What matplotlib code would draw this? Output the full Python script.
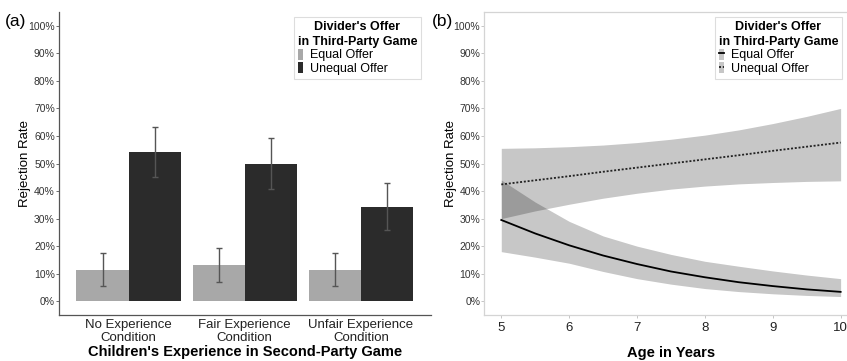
import numpy as np
import matplotlib
matplotlib.use("Agg")
from matplotlib import pyplot as plt
from matplotlib.patches import Patch
from matplotlib.lines import Line2D
from matplotlib.legend_handler import HandlerTuple

plt.rcParams['font.family'] = ['Liberation Sans', 'DejaVu Sans']

# panel (a): rejection rate by condition
conditions = ["No Experience\nCondition", "Fair Experience\nCondition", "Unfair Experience\nCondition"]
equal_rate = [0.115, 0.131, 0.115]
equal_lo = [0.057, 0.070, 0.057]
equal_hi = [0.174, 0.195, 0.174]
unequal_rate = [0.541, 0.500, 0.341]
unequal_lo = [0.452, 0.409, 0.258]
unequal_hi = [0.633, 0.592, 0.429]

# panel (b): fitted rejection rate by age
ages = [5, 5.5, 6, 6.5, 7, 7.5, 8, 8.5, 9, 9.5, 10]
eq_fit = [0.295, 0.246, 0.203, 0.166, 0.135, 0.108, 0.087, 0.069, 0.055, 0.043, 0.034]
eq_upper = [0.44, 0.36, 0.29, 0.237, 0.20, 0.17, 0.145, 0.127, 0.11, 0.095, 0.082]
eq_lower = [0.18, 0.16, 0.138, 0.108, 0.082, 0.062, 0.046, 0.035, 0.027, 0.021, 0.017]
uneq_fit = [0.424, 0.439, 0.454, 0.470, 0.485, 0.500, 0.515, 0.530, 0.546, 0.561, 0.576]
uneq_upper = [0.555, 0.557, 0.561, 0.567, 0.576, 0.588, 0.603, 0.622, 0.645, 0.671, 0.70]
uneq_lower = [0.30, 0.328, 0.352, 0.374, 0.392, 0.407, 0.418, 0.426, 0.431, 0.435, 0.437]

legend_title = "Divider's Offer\nin Third-Party Game"
labels = ["Equal Offer", "Unequal Offer"]
yticks = np.arange(0, 1.01, 0.1)
yticklabels = ["%d%%" % round(v * 100) for v in yticks]

light = "#a8a8a8"
dark = "#2b2b2b"

fig = plt.figure(figsize=(8.47, 3.61), dpi=100)
ax1 = fig.add_axes([59 / 847, 46 / 361, 371.6 / 847, 303 / 361])
ax2 = fig.add_axes([484.3 / 847, 46 / 361, 373.3 / 847, 303 / 361])


def legend_style(leg):
    leg.get_frame().set_edgecolor("#dddddd")
    leg.get_frame().set_linewidth(0.8)
    leg.get_title().set_multialignment("center")
    leg.get_title().set_linespacing(1.3)


leg_kw = dict(borderaxespad=0, fontsize=9, title_fontproperties={"weight": "bold", "size": 9},
              handlelength=0.45, handleheight=1.0, handletextpad=0.5, alignment="left",
              labelspacing=0.05, borderpad=0.3, fancybox=False, framealpha=1)

# ---- (a) bars
x = np.arange(1, 4)
w = 0.45
ax1.bar(x - w / 2, equal_rate, w, color=light, label=labels[0])
ax1.bar(x + w / 2, unequal_rate, w, color=dark, label=labels[1])
err_lo = [np.array(equal_rate) - np.array(equal_lo), np.array(equal_hi) - np.array(equal_rate)]
ax1.errorbar(x - w / 2, equal_rate, yerr=err_lo, fmt="none", ecolor="#555555",
             elinewidth=1, capsize=2.2, capthick=1)
err_hi = [np.array(unequal_rate) - np.array(unequal_lo), np.array(unequal_hi) - np.array(unequal_rate)]
ax1.errorbar(x + w / 2, unequal_rate, yerr=err_hi, fmt="none", ecolor="#555555",
             elinewidth=1, capsize=2.2, capthick=1)
ax1.set_xlim(0.4, 3.6)
ax1.set_ylim(-0.05, 1.05)
ax1.set_xticks(x)
ax1.set_xticklabels(conditions, fontsize=9.5, linespacing=1.05, color="#222222")
ax1.set_yticks(yticks)
ax1.set_yticklabels(yticklabels, fontsize=7.5, color="#333333")
for s in ["top", "right"]:
    ax1.spines[s].set_visible(False)
for s in ["left", "bottom"]:
    ax1.spines[s].set_color("#555555")
    ax1.spines[s].set_linewidth(0.9)
ax1.tick_params(axis="y", length=2, width=0.6, color="#555555", pad=1)
ax1.tick_params(axis="x", length=0, pad=3)
ax1.set_ylabel("Rejection Rate", fontsize=9.5)
ax1.yaxis.set_label_coords(-0.076, 0.5)
ax1.set_xlabel("Children's Experience in Second-Party Game", fontsize=10.5,
               fontweight="bold", labelpad=1)
leg1 = ax1.legend(title=legend_title, loc="upper right", bbox_to_anchor=(0.974, 0.982), **leg_kw)
legend_style(leg1)
fig.text(5 / 847, 1 - 26 / 361, "(a)", fontsize=12.5)

# ---- (b) fitted curves with bands
band = dict(color="black", alpha=0.22, linewidth=0)
ax2.fill_between(ages, eq_lower, eq_upper, **band)
ax2.fill_between(ages, uneq_lower, uneq_upper, **band)
ax2.plot(ages, eq_fit, color="black", linewidth=1.3, linestyle="-")
ax2.plot(ages, uneq_fit, color="#222222", linewidth=1.3, linestyle=(0, (1.1, 1.0)))
ax2.set_xlim(4.75, 10.25)
ax2.set_ylim(-0.05, 1.05)
ax2.set_xticks([5, 6, 7, 8, 9, 10])
ax2.set_xticklabels(["5", "6", "7", "8", "9", "10"], fontsize=9.5, color="#222222")
ax2.set_yticks(yticks)
ax2.set_yticklabels(yticklabels, fontsize=7.5, color="#333333")
for s in ax2.spines.values():
    s.set_color("#d4d4d4")
    s.set_linewidth(0.9)
ax2.tick_params(axis="both", length=2, width=0.6, color="#bbbbbb", pad=1)
ax2.tick_params(axis="x", pad=3)
ax2.set_ylabel("Rejection Rate", fontsize=9.5)
ax2.yaxis.set_label_coords(-0.074, 0.5)
ax2.set_xlabel("Age in Years", fontsize=10.5, fontweight="bold", labelpad=9)
key_bg = Patch(facecolor="#c6c6c6", edgecolor="none")
h_eq = (key_bg, Line2D([], [], color="black", linewidth=1.3))
h_un = (key_bg, Line2D([], [], color="#222222", linewidth=1.3, linestyle=(0, (1.1, 1.0))))
leg2 = ax2.legend([h_eq, h_un], labels, title=legend_title, loc="upper right",
                  bbox_to_anchor=(0.958, 0.982),
                  handler_map={tuple: HandlerTuple(ndivide=1, pad=0)}, **leg_kw)
legend_style(leg2)
fig.text(432 / 847, 1 - 26 / 361, "(b)", fontsize=12.5)

fig.savefig("out.png", dpi=100)
